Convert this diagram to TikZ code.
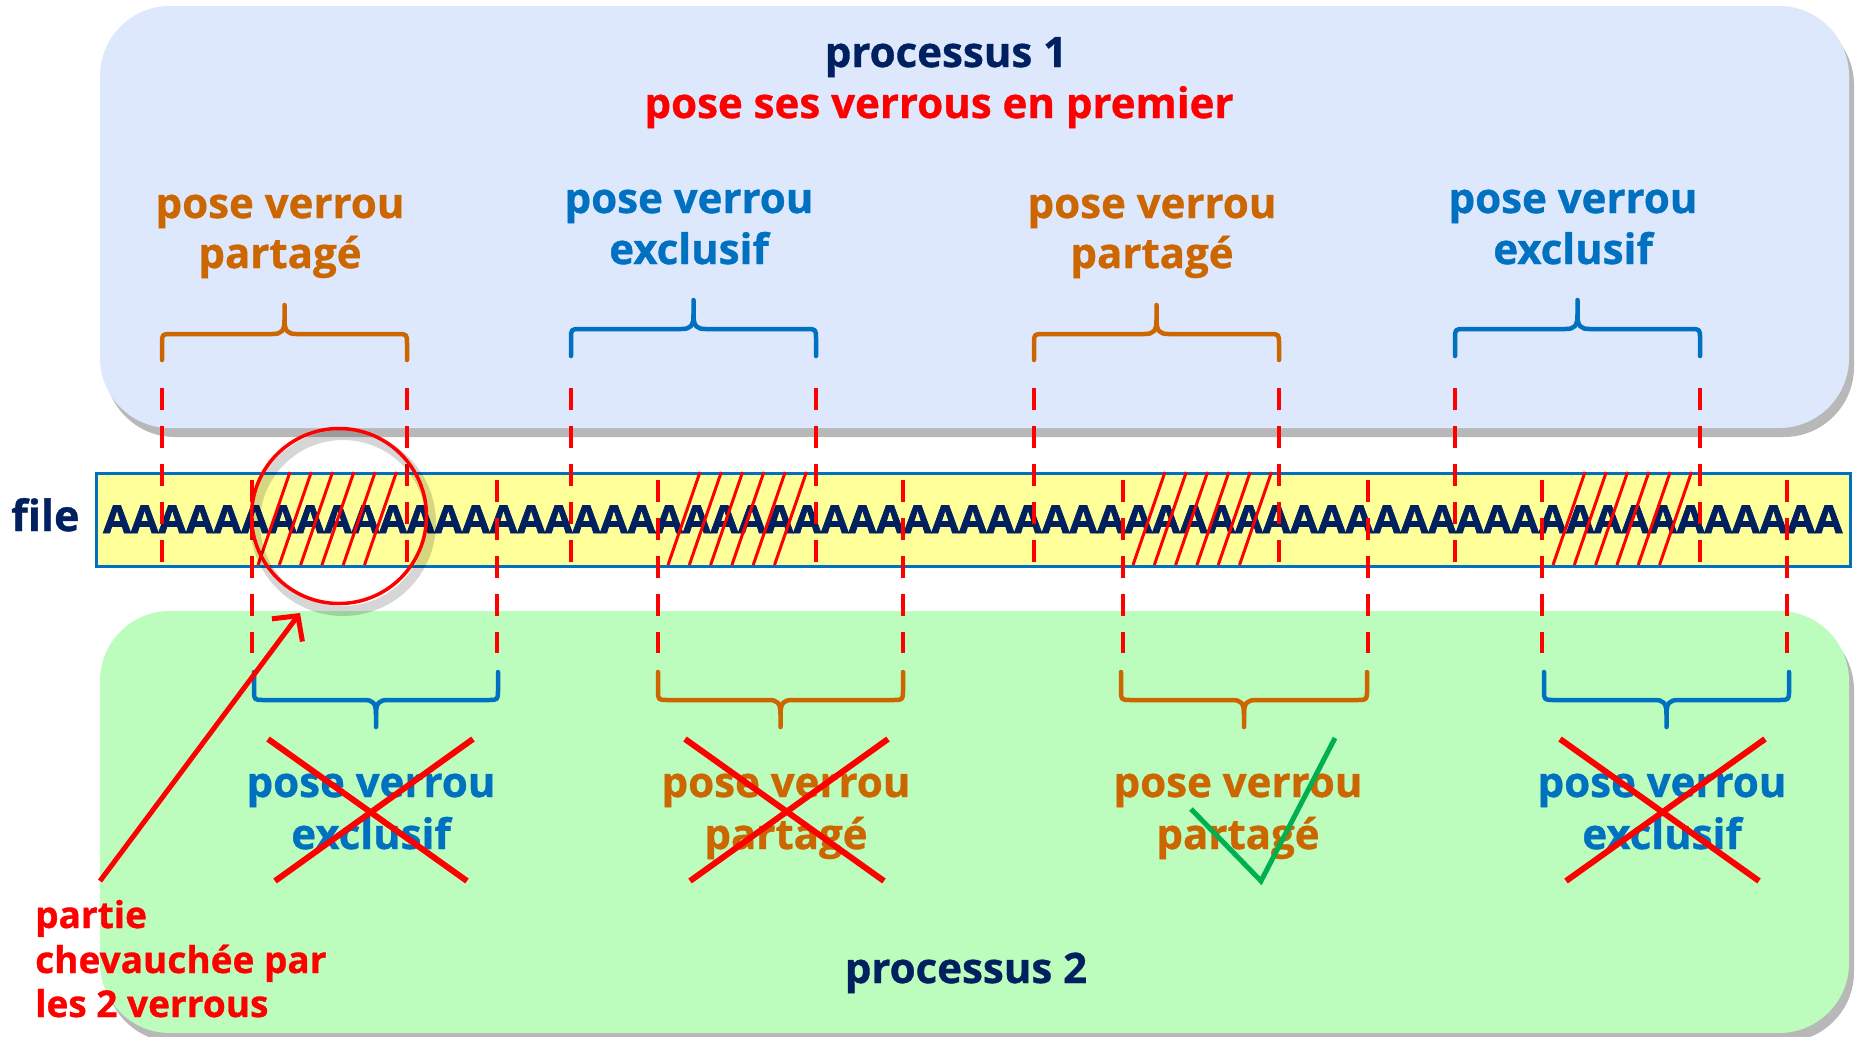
\documentclass[tikz,border=0pt]{standalone}
\usepackage{fontspec}
\setmainfont{Open Sans}[BoldFeatures={FakeBold=0.8}]
\newfontfamily\heavyfont{Open Sans}[BoldFeatures={FakeBold=1.8}]
\usetikzlibrary{arrows.meta,shadows}
\definecolor{navy}{RGB}{0,32,96}
\definecolor{lockred}{RGB}{255,0,0}
\definecolor{shorange}{RGB}{204,102,0}
\definecolor{exblue}{RGB}{0,112,192}
\definecolor{okgreen}{RGB}{0,176,80}
\definecolor{topfill}{RGB}{222,232,252}
\definecolor{botfill}{RGB}{188,252,188}
\definecolor{barfill}{RGB}{255,255,153}
\newcommand{\fsz}[1]{\fontsize{#1}{#1}\selectfont\bfseries}
\newcommand{\lockbrace}[6]{%
  \pgfmathsetmacro{\bxm}{(#2+#3)/2}%
  \pgfmathsetmacro{\bsg}{(#4>#5)?1:-1}%
  \draw[bracestyle,#1] (#2,#4) -- (#2,{#5+\bsg*10}) .. controls (#2,#5) .. ({#2+10},#5) -- ({\bxm-12},#5) .. controls ({\bxm-3},#5) and (\bxm,{#5-\bsg*3}) .. (\bxm,{#5-\bsg*14}) -- (\bxm,#6);
  \draw[bracestyle,#1] (#3,#4) -- (#3,{#5+\bsg*10}) .. controls (#3,#5) .. ({#3-10},#5) -- ({\bxm+12},#5) .. controls ({\bxm+3},#5) and (\bxm,{#5-\bsg*3}) .. (\bxm,{#5-\bsg*14});
}
\begin{document}
\begin{tikzpicture}[x=1pt,y=-1pt,
  procbox/.style={rounded corners=70pt, drop shadow={shadow xshift=5pt, shadow yshift=-9pt, fill=black!55, opacity=0.5}},
  bracestyle/.style={line width=4.5pt, line cap=round, line join=round},
  dline/.style={draw=lockred, line width=4.4pt, dash pattern=on 22pt off 16pt},
  hatch/.style={draw=lockred, line width=3pt},
  xline/.style={draw=lockred, line width=6pt},
  lbl/.style={anchor=base, inner sep=0, font=\fsz{42}},
  note/.style={anchor=base west, inner sep=0, text=lockred, font=\fsz{37}},
]
\useasboundingbox (0,0) rectangle (1860,1036);
\fill[white] (0,0) rectangle (1860,1036);
% process boxes
\path[procbox, fill=topfill] (100,6) rectangle (1849,428);
\path[procbox, fill=botfill] (100,611) rectangle (1849,1033);
% file bar
\node[draw=exblue, line width=2.5pt, fill=barfill, anchor=north west, minimum width=1754pt, minimum height=93pt, inner sep=0] (bar) at (95,472) {};
\node[anchor=base west, inner sep=0, text=navy] (content) at (103,533) {\resizebox{1739pt}{\height}{\heavyfont\fsz{38.5}AAAAAAAAAAAAAAAAAAAAAAAAAAAAAAAAAAAAAAAAAAAAAAAAAAAAAAAAAAAAAAA}};
\node[anchor=base west, inner sep=0, text=navy, font=\fsz{43}] (filelbl) at (11,531) {file};
% hatching
\foreach \b in {258,668,1133,1553}{
  \foreach \i in {0,...,5}{
    \draw[hatch] ({\b+21.3*\i},565) -- ({\b+21.3*\i+32},472);
  }
}
% dashed guides
\foreach \x in {162,407,571,816,1034,1279,1455,1700}
  \draw[dline] (\x,388) -- (\x,562);
\foreach \x in {252,497,658,903,1123,1368,1542,1787}
  \draw[dline] (\x,480) -- (\x,653);
% overlap circle
\draw[black, opacity=0.16, line width=10pt] (343,523) circle (88);
\node[circle, draw=lockred, line width=3.5pt, minimum size=175pt, inner sep=0] (overlap) at (339,516) {};
% braces process 1
\lockbrace{shorange}{162}{407}{360}{334}{305}
\lockbrace{exblue}{571}{816}{356}{329}{300}
\lockbrace{shorange}{1034}{1279}{360}{334}{305}
\lockbrace{exblue}{1455}{1700}{356}{329}{300}
% braces process 2
\lockbrace{exblue}{254}{498}{672}{700}{727}
\lockbrace{shorange}{658}{903}{672}{700}{727}
\lockbrace{shorange}{1121}{1367}{672}{700}{727}
\lockbrace{exblue}{1544}{1789}{672}{700}{727}
% titles
\node[lbl, text=navy] (p1) at (946,67) {processus 1};
\node[lbl, text=lockred] (p1sub) at (939,118) {pose ses verrous en premier};
\node[lbl, text=navy] (p2) at (966,983) {processus 2};
% process 1 labels
\node[lbl, text=shorange] (a1) at (280,218) {pose verrou};
\node[lbl, text=shorange] (a2) at (280,268) {partagé};
\node[lbl, text=exblue] (b1) at (689,213) {pose verrou};
\node[lbl, text=exblue] (b2) at (689,264) {exclusif};
\node[lbl, text=shorange] (c1) at (1152,218) {pose verrou};
\node[lbl, text=shorange] (c2) at (1152,268) {partagé};
\node[lbl, text=exblue] (d1) at (1573,213) {pose verrou};
\node[lbl, text=exblue] (d2) at (1573,264) {exclusif};
% process 2 labels
\node[lbl, text=exblue] (e1) at (371,797) {pose verrou};
\node[lbl, text=exblue] (e2) at (371,849) {exclusif};
\node[lbl, text=shorange] (f1) at (786,797) {pose verrou};
\node[lbl, text=shorange] (f2) at (786,849) {partagé};
\node[lbl, text=shorange] (g1) at (1238,797) {pose verrou};
\node[lbl, text=shorange] (g2) at (1238,849) {partagé};
\node[lbl, text=exblue] (h1) at (1662,797) {pose verrou};
\node[lbl, text=exblue] (h2) at (1662,849) {exclusif};
% refusals and acceptance
\draw[xline] (268,739) -- (467,881);
\draw[xline] (473,739) -- (275,881);
\draw[xline] (685,739) -- (884,881);
\draw[xline] (888,739) -- (690,881);
\draw[xline] (1560,739) -- (1759,881);
\draw[xline] (1765,739) -- (1566,881);
\draw[draw=okgreen, line width=5pt, line join=miter] (1191,809) -- (1261,881) -- (1335,738);
% note
\node[note] (n1) at (35,928) {partie};
\node[note] (n2) at (35,973) {chevauchée par};
\node[note] (n3) at (35,1017) {les 2 verrous};
\coordinate (arrowstart) at (100,881);
\coordinate (arrowtip) at (300,613);
\draw[lockred, line width=5pt, -{Straight Barb[length=18pt,width=38pt]}] (arrowstart) -- (arrowtip);
\end{tikzpicture}
\end{document}
